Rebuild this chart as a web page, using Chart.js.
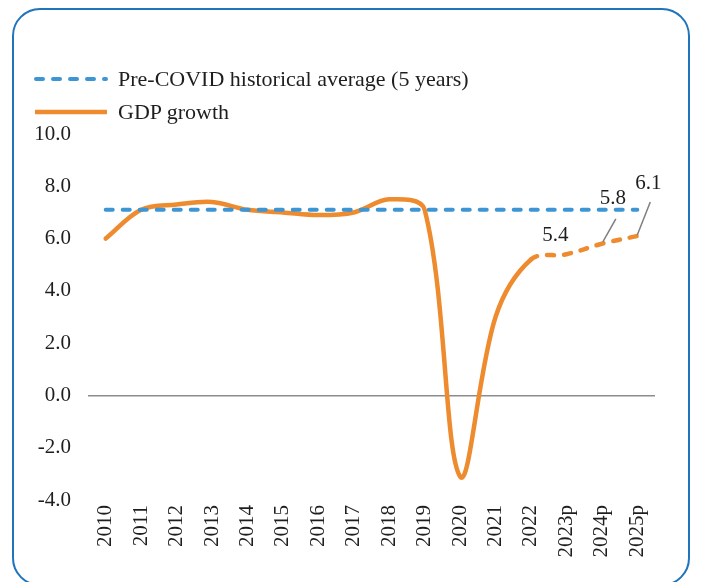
<!DOCTYPE html>
<html>
<head>
<meta charset="utf-8">
<script src="https://cdn.jsdelivr.net/npm/chart.js@4"></script>
<style>
  html, body { margin: 0; padding: 0; background: #fff; }
  body { width: 702px; height: 582px; position: relative; overflow: hidden; font-family: 'Liberation Serif', 'DejaVu Serif', serif; }
  .frame { position: absolute; left: 12px; top: 8px; width: 678px; height: 578px; border: 2px solid #1f74bb; border-radius: 28px; box-sizing: border-box; }
  .legend { position: absolute; left: 33px; top: 62px; font-size: 22px; color: #1e1e1e; }
  .legend-row { display: flex; align-items: center; height: 33px; }
  .legend-row svg { margin-right: 9px; }
  #wrap { position: absolute; left: 0; top: 0; width: 702px; height: 582px; }
</style>
</head>
<body>
<div class="frame"></div>
<div id="wrap"><canvas id="gdpChart"></canvas></div>
<div class="legend">
  <div class="legend-row">
    <svg width="76" height="8"><line x1="3" y1="4" x2="73" y2="4" stroke="#3d95d3" stroke-width="4" stroke-linecap="round" stroke-dasharray="7 10"/></svg>
    <span>Pre-COVID historical average (5 years)</span>
  </div>
  <div class="legend-row">
    <svg width="76" height="8"><line x1="2" y1="4" x2="74" y2="4" stroke="#ed8b2e" stroke-width="4.5"/></svg>
    <span>GDP growth</span>
  </div>
</div>
<script>
const years = ['2010', '2011', '2012', '2013', '2014', '2015', '2016', '2017', '2018', '2019', '2020', '2021', '2022', '2023p', '2024p', '2025p'];
const gdpGrowth = [6.0, 7.1, 7.3, 7.4, 7.1, 7.0, 6.9, 7.0, 7.5, 7.1, -3.1, 3.0, 5.2, 5.4, 5.8, 6.1];
const preCovidAvg = [7.1, 7.1, 7.1, 7.1, 7.1, 7.1, 7.1, 7.1, 7.1, 7.1, 7.1, 7.1, 7.1, 7.1, 7.1, 7.1];
const firstProjection = 13;
const yTicks = [-4, -2, 0, 2, 4, 6, 8, 10];

// value labels on the projected years: [index, dx, dy, leader?]
const valueLabels = [
  [13, -11, -19, null],
  [14, 11, -45, [14, -25, 1, -2]],
  [15, 11, -52, [13, -34, 0, -1]]
];

const FONT = "'Liberation Serif', 'DejaVu Serif', serif";
const TEXT = '#1e1e1e';

const labelPlugin = {
  id: 'valueLabels',
  afterDatasetsDraw(chart) {
    const meta = chart.getDatasetMeta(1);
    const ctx = chart.ctx;
    ctx.save();
    valueLabels.forEach(([i, dx, dy, leader]) => {
      const pt = meta.data[i];
      if (leader) {
        ctx.strokeStyle = '#7f7f7f';
        ctx.lineWidth = 1.5;
        ctx.beginPath();
        ctx.moveTo(pt.x + leader[0], pt.y + leader[1]);
        ctx.lineTo(pt.x + leader[2], pt.y + leader[3]);
        ctx.stroke();
      }
      ctx.fillStyle = TEXT;
      ctx.font = `21px ${FONT}`;
      ctx.textAlign = 'center';
      ctx.textBaseline = 'middle';
      ctx.fillText(gdpGrowth[i].toFixed(1), pt.x + dx, pt.y + dy);
    });
    ctx.restore();
  }
};

new Chart(document.getElementById('gdpChart'), {
  type: 'line',
  data: {
    labels: years,
    datasets: [
      {
        label: 'Pre-COVID historical average (5 years)',
        data: preCovidAvg,
        borderColor: '#3d95d3',
        borderWidth: 4,
        borderDash: [7, 10],
        borderCapStyle: 'round',
        pointRadius: 0,
        tension: 0
      },
      {
        label: 'GDP growth',
        data: gdpGrowth,
        borderColor: '#ed8b2e',
        borderWidth: 4.5,
        borderCapStyle: 'round',
        pointRadius: 0,
        tension: 0.35,
        segment: {
          borderDash: c => c.p1DataIndex >= firstProjection ? [7, 10] : undefined
        }
      }
    ]
  },
  options: {
    responsive: true,
    maintainAspectRatio: false,
    animation: false,
    layout: { padding: { left: 30, top: 134, right: 47, bottom: 0 } },
    plugins: { legend: { display: false }, tooltip: { enabled: false } },
    scales: {
      x: {
        offset: true,
        afterFit: s => { s.height = 82; },
        grid: { display: false, drawTicks: false },
        border: { display: false },
        ticks: { color: TEXT, font: { family: FONT, size: 21 }, maxRotation: 90, minRotation: 90, padding: 5, autoSkip: false }
      },
      y: {
        min: -4,
        max: 10,
        afterFit: s => { s.width = 58; },
        afterBuildTicks: s => { s.ticks = yTicks.map(v => ({ value: v })); },
        grid: {
          drawTicks: false,
          lineWidth: c => c.tick && c.tick.value === 0 ? 1.5 : 0,
          color: '#8c8c8c'
        },
        border: { display: false },
        ticks: { color: TEXT, font: { family: FONT, size: 21 }, padding: 17, callback: v => Number(v).toFixed(1) }
      }
    }
  },
  plugins: [labelPlugin]
});
</script>
</body>
</html>
